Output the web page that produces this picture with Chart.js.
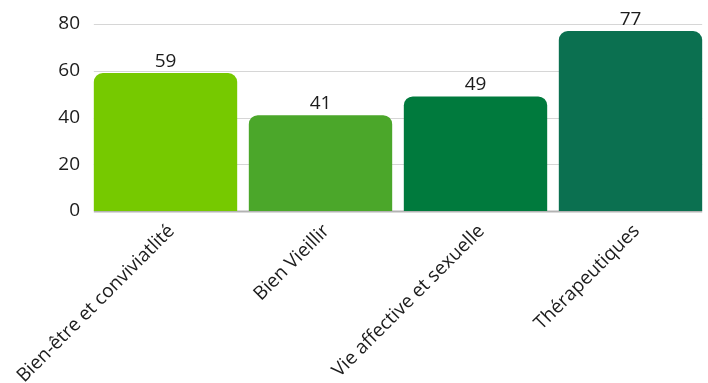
<!DOCTYPE html>
<html>
<head>
<meta charset="utf-8">
<script src="https://cdn.jsdelivr.net/npm/chart.js@4"></script>
<style>
  html, body { margin: 0; padding: 0; background: #ffffff; }
  #wrap { width: 708px; height: 383px; position: relative; }
</style>
</head>
<body>
<div id="wrap"><canvas id="chart"></canvas></div>
<script>
// Categories and counts per activity theme
const categories = [
  'Bien-être et conviviatlité',
  'Bien Vieillir',
  'Vie affective et sexuelle',
  'Thérapeutiques'
];
const counts = [59, 41, 49, 77];
const barColors = ['#76C900', '#4BA72A', '#007A3D', '#0B7050'];
const yTicks = [0, 20, 40, 60, 80];

const FONT = "'Open Sans', 'Noto Sans', sans-serif";
const FONT_SIZE = 19;
const TEXT = '#1c1c1c';

// Horizontal grid lines spanning from the first bar's left edge to the last bar's right edge
const gridPlugin = {
  id: 'barGrid',
  beforeDatasetsDraw(chart) {
    const { ctx } = chart;
    const y = chart.scales.y;
    const bars = chart.getDatasetMeta(0).data;
    const first = bars[0], last = bars[bars.length - 1];
    const x0 = first.x - first.width / 2;
    const x1 = last.x + last.width / 2;
    ctx.save();
    yTicks.forEach(v => {
      const py = Math.round(y.getPixelForValue(v)) + 0.5;
      ctx.beginPath();
      if (v === 0) {
        ctx.strokeStyle = '#b3b3b3';
        ctx.lineWidth = 2;
      } else {
        ctx.strokeStyle = '#d6d6d6';
        ctx.lineWidth = 1;
      }
      ctx.moveTo(x0, py);
      ctx.lineTo(x1, py);
      ctx.stroke();
    });
    ctx.restore();
  }
};

// Value written above each bar
const valueLabels = {
  id: 'valueLabels',
  afterDatasetsDraw(chart) {
    const { ctx } = chart;
    const meta = chart.getDatasetMeta(0);
    ctx.save();
    ctx.font = FONT_SIZE + 'px ' + FONT;
    ctx.fillStyle = TEXT;
    ctx.textAlign = 'center';
    ctx.textBaseline = 'alphabetic';
    meta.data.forEach((bar, i) => {
      ctx.fillText(String(counts[i]), bar.x, bar.y - 6);
    });
    ctx.restore();
  }
};

new Chart(document.getElementById('chart'), {
  type: 'bar',
  data: {
    labels: categories,
    datasets: [{
      data: counts,
      backgroundColor: barColors,
      borderRadius: { topLeft: 9, topRight: 9, bottomLeft: 0, bottomRight: 0 },
      borderSkipped: false,
      categoryPercentage: 1,
      barPercentage: 0.925
    }]
  },
  options: {
    responsive: true,
    maintainAspectRatio: false,
    animation: false,
    layout: { padding: { top: 24, right: 0, left: 0, bottom: 0 } },
    plugins: {
      legend: { display: false },
      tooltip: { enabled: false }
    },
    scales: {
      x: {
        grid: { display: false },
        border: { display: false },
        ticks: {
          color: TEXT,
          font: { family: FONT, size: FONT_SIZE },
          minRotation: 45,
          maxRotation: 45,
          autoSkip: false,
          padding: 1,
          labelOffset: 6
        },
        afterFit(scale) { scale.height = 172; }
      },
      y: {
        min: 0,
        max: 80,
        afterBuildTicks(scale) { scale.ticks = yTicks.map(v => ({ value: v })); },
        grid: { display: false, drawTicks: false },
        border: { display: false },
        ticks: {
          color: TEXT,
          font: { family: FONT, size: FONT_SIZE },
          padding: 8
        },
        afterFit(scale) { scale.width = 88; }
      }
    }
  },
  plugins: [gridPlugin, valueLabels]
});
</script>
</body>
</html>
